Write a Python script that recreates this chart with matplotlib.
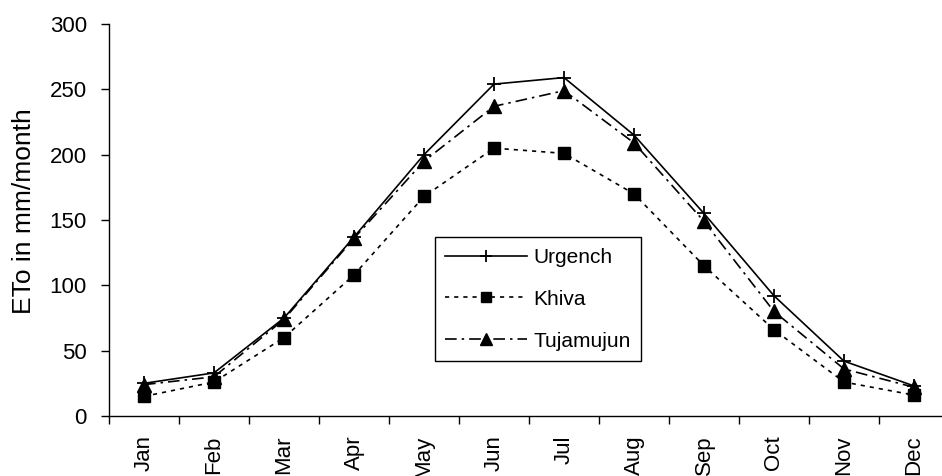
import matplotlib
matplotlib.use("Agg")
import matplotlib.pyplot as plt
import numpy as np

months = ["Jan", "Feb", "Mar", "Apr", "May", "Jun", "Jul", "Aug", "Sep", "Oct", "Nov", "Dec"]
urgench = [25, 33, 75, 137, 200, 254, 259, 215, 155, 92, 42, 23]
khiva = [15, 26, 60, 108, 168, 205, 201, 170, 115, 66, 26, 16]
tujamujun = [24, 30, 74, 136, 195, 237, 249, 209, 149, 80, 36, 22]
yticks = [0, 50, 100, 150, 200, 250, 300]

plt.rcParams['font.family'] = ['Liberation Sans', 'DejaVu Sans']

W, H = 942, 476
fig = plt.figure(figsize=(W / 100, H / 100), dpi=100)
ax = fig.add_axes([109 / W, 60 / H, 840 / W, 392 / H])

x = np.arange(len(months))
ax.plot(x, urgench, color='black', lw=1.2, ls='-', marker='+', ms=10, mew=1.3, label='Urgench')
ax.plot(x, khiva, color='black', lw=1.2, ls=(0, (2.5, 3)), marker='s', ms=8, label='Khiva')
ax.plot(x, tujamujun, color='black', lw=1.2, ls=(0, (7, 3, 1.5, 3)), marker='^', ms=10, label='Tujamujun')

ax.set_xlim(-0.5, 11.5)
ax.set_ylim(0, 300)
ax.set_yticks(yticks)
ax.set_yticklabels([str(v) for v in yticks], fontsize=16)
ax.set_xticks(x)
ax.set_xticklabels(months, rotation=90, fontsize=16)
ax.set_xticks(np.arange(-0.5, 12, 1), minor=True)
ax.tick_params(axis='x', which='major', length=0, pad=14)
ax.tick_params(axis='x', which='minor', length=6, width=1, direction='out')
ax.tick_params(axis='y', length=6, width=1, direction='out', pad=10)
for s in ['top', 'right']:
    ax.spines[s].set_visible(False)
for s in ['left', 'bottom']:
    ax.spines[s].set_linewidth(1)

fig.text(24 / W, 1 - 211 / H, 'ETo in mm/month', rotation=90, ha='center', va='center', fontsize=19)

leg = ax.legend(loc='lower left', bbox_to_anchor=(0.388, 0.140), fontsize=15,
                frameon=True, fancybox=False, edgecolor='black', framealpha=1,
                handlelength=3.9, handletextpad=0.34, labelspacing=1.1, borderpad=0.5,
                borderaxespad=0, markerscale=0.85)
leg.get_frame().set_linewidth(1)

fig.savefig('out.png', dpi=100)
